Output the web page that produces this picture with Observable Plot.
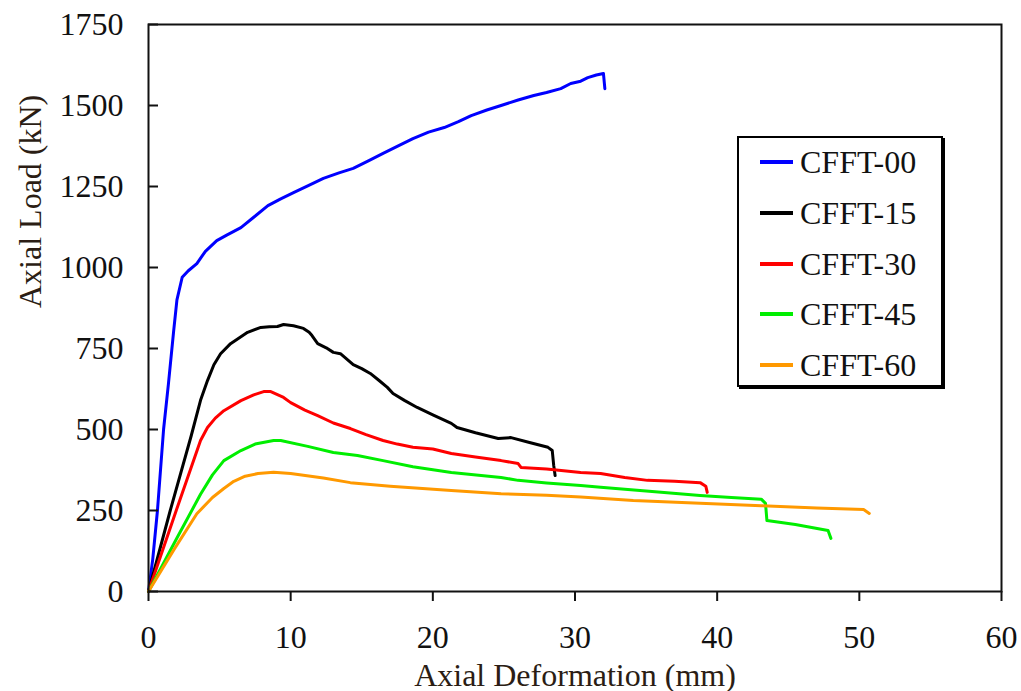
<!DOCTYPE html>
<html>
<head>
<meta charset="utf-8">
<script src="https://cdn.jsdelivr.net/npm/d3@7"></script>
<script src="https://cdn.jsdelivr.net/npm/@observablehq/plot@0.6"></script>
<style>
  body { margin: 0; background: #fff; }
  #chart { position: relative; width: 1021px; height: 691px; font-family: "Liberation Serif", "Times New Roman", serif; color: #111; }
  #legend { position: absolute; left: 737px; top: 136px; width: 202px; height: 247px; border: 2px solid #000; box-shadow: 2px 2px 0 #000; background: #fff; }
  .row { position: absolute; left: 0; height: 0; }
  .sw { position: absolute; left: 21px; width: 33px; height: 4px; top: -2px; }
  .lb { position: absolute; left: 61px; top: -19px; font-size: 32px; line-height: 38px; white-space: nowrap; color: #111; }
</style>
</head>
<body>
<div id="chart"></div>
<script>
// Load–deformation curves of the five CFFT specimens: [deformation (mm), load (kN)]
const cfft00 = [[0,0],[0.3,100],[0.63,250],[1.06,500],[1.4,640],[1.76,800],[2.0,900],[2.37,970],[2.8,990],[3.4,1012],[4.0,1050],[4.8,1083],[5.5,1100],[6.5,1123],[7.4,1155],[8.4,1191],[9.3,1212],[10.2,1231],[11.2,1252],[12.3,1275],[13.4,1292],[14.4,1306],[15.5,1330],[16.5,1352],[17.6,1376],[18.6,1398],[19.7,1418],[20.8,1432],[21.8,1450],[22.7,1469],[23.8,1486],[24.8,1500],[26.0,1517],[27.1,1531],[28.0,1540],[29.0,1552],[29.7,1568],[30.4,1575],[30.9,1586],[31.5,1594],[32.0,1599],[32.1,1552]];
const cfft15 = [[0,0],[1.53,250],[3.0,480],[3.66,590],[4.15,651],[4.6,700],[5.07,734],[5.77,765],[6.97,800],[7.9,815],[8.5,817],[9.07,818],[9.5,824],[10.2,820],[10.9,812],[11.3,800],[11.5,790],[11.9,765],[12.5,752],[13.0,738],[13.5,734],[14.4,700],[15.0,688],[15.6,673],[16.2,652],[16.8,630],[17.2,611],[18.0,590],[18.9,568],[20.0,545],[21.3,519],[21.7,506],[23.0,490],[24.6,472],[25.5,475],[26.8,460],[28.1,445],[28.4,435],[28.5,390],[28.6,358]];
const cfft30 = [[0,0],[1.95,250],[3.66,466],[4.15,506],[4.7,535],[5.3,558],[6.5,589],[7.4,607],[8.1,617],[8.6,617],[9.5,599],[10.0,583],[11.0,560],[11.9,543],[13.0,520],[14.2,503],[15.3,484],[16.5,466],[17.5,455],[18.6,445],[20.0,440],[21.3,426],[23.0,415],[24.8,404],[26.0,395],[26.2,383],[28.0,378],[30.4,367],[31.8,364],[33.5,352],[35.1,343],[37.0,340],[38.8,336],[39.2,325],[39.3,306]];
const cfft45 = [[0,0],[2.0,165],[3.66,300],[4.5,360],[5.3,404],[6.5,435],[7.5,455],[8.8,466],[9.3,466],[11.2,448],[13.0,429],[14.7,420],[16.5,404],[18.6,385],[21.3,367],[24.8,352],[26.0,343],[28.0,335],[30.4,327],[31.8,322],[35.0,310],[38.8,296],[41.0,290],[43.1,285],[43.4,272],[43.5,219],[45.5,207],[47.8,188],[48.0,164]];
const cfft60 = [[0,0],[1.8,130],[3.4,240],[4.5,290],[5.3,318],[6.0,340],[6.8,356],[7.7,364],[8.8,368],[10.0,364],[12.3,350],[14.2,336],[17.0,325],[21.3,312],[24.8,302],[28.0,297],[30.4,292],[34.1,281],[38.8,272],[43.1,265],[47.0,258],[50.3,253],[50.7,241]];

const seriesNames = ["CFFT-00", "CFFT-15", "CFFT-30", "CFFT-45", "CFFT-60"];
const seriesColors = ["#0000ff", "#000000", "#ff0000", "#00ee00", "#ff9900"];
const seriesData = [cfft00, cfft15, cfft30, cfft45, cfft60];

const xTicks = [0, 10, 20, 30, 40, 50, 60];
const yTicks = [0, 250, 500, 750, 1000, 1250, 1500, 1750];

const rows = seriesData.flatMap((pts, i) => pts.map(([x, y]) => ({series: seriesNames[i], x, y})));

const plot = Plot.plot({
  width: 1021,
  height: 691,
  marginLeft: 148,
  marginRight: 20,
  marginTop: 24,
  marginBottom: 100,
  style: {fontFamily: "'Liberation Serif', 'Times New Roman', serif", fontSize: "32px", color: "#111", background: "white"},
  x: {domain: [0, 60]},
  y: {domain: [0, 1750]},
  color: {domain: seriesNames, range: seriesColors},
  marks: [
    Plot.line(rows, {x: "x", y: "y", z: "series", stroke: "series", strokeWidth: 3, strokeLinejoin: "round", strokeLinecap: "round"}),
    Plot.frame({strokeWidth: 2}),
    Plot.axisX(xTicks, {tickSize: 10, tickPadding: 24, strokeWidth: 2, label: null, fontSize: 32, tickFormat: d3.format("d")}),
    Plot.axisY(yTicks, {tickSize: 0, tickPadding: 25, label: null, fontSize: 32, tickFormat: d3.format("d")}),
    Plot.axisY(yTicks, {tickSize: 10, dx: 10, strokeWidth: 2, tickFormat: () => "", label: null}),
    Plot.text(["Axial Deformation (mm)"], {text: d => d, frameAnchor: "bottom", dy: 94, lineAnchor: "bottom", fontSize: 32, fill: "#2b1d14"}),
    Plot.text(["Axial Load (kN)"], {text: d => d, frameAnchor: "left", dx: -108, rotate: -90, lineAnchor: "bottom", fontSize: 32, fill: "#2b1d14"})
  ]
});

const chart = document.getElementById("chart");
chart.appendChild(plot);

// Boxed legend in the upper right of the plot area
const legend = document.createElement("div");
legend.id = "legend";
seriesNames.forEach((name, i) => {
  const row = document.createElement("div");
  row.className = "row";
  row.style.top = (24 + i * 50.8) + "px";
  const sw = document.createElement("div");
  sw.className = "sw";
  sw.style.background = seriesColors[i];
  const lb = document.createElement("div");
  lb.className = "lb";
  lb.textContent = name;
  row.appendChild(sw);
  row.appendChild(lb);
  legend.appendChild(row);
});
chart.appendChild(legend);
</script>
</body>
</html>
